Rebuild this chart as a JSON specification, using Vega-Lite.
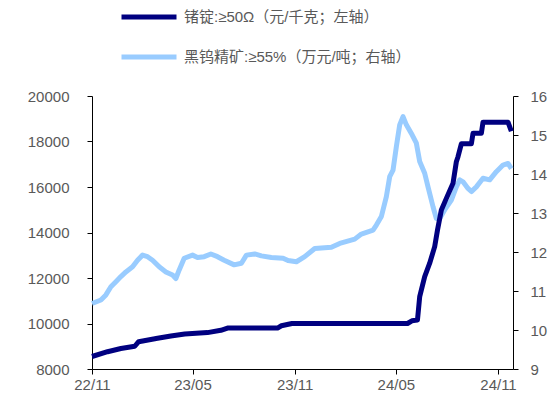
{
  "$schema": "https://vega.github.io/schema/vega-lite/v6.json",
  "width": 421,
  "height": 273,
  "autosize": {"type": "none"},
  "padding": {"left": 92, "top": 96, "right": 40, "bottom": 28},
  "background": "white",
  "config": {
    "view": {"stroke": null},
    "font": "Liberation Sans",
    "axis": {
      "labelFont": "Liberation Sans",
      "labelFontSize": 15,
      "labelColor": "#595959",
      "domainColor": "#000000",
      "tickColor": "#000000",
      "domainWidth": 1,
      "tickWidth": 1,
      "tickSize": 5,
      "grid": false,
      "title": null
    },
    "legend": {
      "orient": "none",
      "legendX": 27,
      "legendY": -109,
      "direction": "vertical",
      "symbolType": "stroke",
      "symbolSize": 3025,
      "symbolStrokeWidth": 5,
      "labelFont": "Liberation Sans, Noto Sans CJK SC",
      "labelFontSize": 15,
      "labelColor": "#595959",
      "labelOffset": 5,
      "rowPadding": 0,
      "labelLimit": 400
    }
  },
  "datasets": {
    "ge": [
      {"date": "2022-11-01", "series": "锗锭:≥50Ω（元/千克；左轴）", "value": 8550},
      {"date": "2022-11-29", "series": "锗锭:≥50Ω（元/千克；左轴）", "value": 8760},
      {"date": "2022-12-23", "series": "锗锭:≥50Ω（元/千克；左轴）", "value": 8900},
      {"date": "2023-01-17", "series": "锗锭:≥50Ω（元/千克；左轴）", "value": 9000},
      {"date": "2023-01-24", "series": "锗锭:≥50Ω（元/千克；左轴）", "value": 9200},
      {"date": "2023-02-27", "series": "锗锭:≥50Ω（元/千克；左轴）", "value": 9350},
      {"date": "2023-03-23", "series": "锗锭:≥50Ω（元/千克；左轴）", "value": 9450},
      {"date": "2023-04-17", "series": "锗锭:≥50Ω（元/千克；左轴）", "value": 9540},
      {"date": "2023-05-28", "series": "锗锭:≥50Ω（元/千克；左轴）", "value": 9600},
      {"date": "2023-06-21", "series": "锗锭:≥50Ω（元/千克；左轴）", "value": 9700},
      {"date": "2023-07-03", "series": "锗锭:≥50Ω（元/千克；左轴）", "value": 9800},
      {"date": "2023-10-01", "series": "锗锭:≥50Ω（元/千克；左轴）", "value": 9800},
      {"date": "2023-10-08", "series": "锗锭:≥50Ω（元/千克；左轴）", "value": 9900},
      {"date": "2023-10-27", "series": "锗锭:≥50Ω（元/千克；左轴）", "value": 10000},
      {"date": "2024-05-22", "series": "锗锭:≥50Ω（元/千克；左轴）", "value": 10000},
      {"date": "2024-05-30", "series": "锗锭:≥50Ω（元/千克；左轴）", "value": 10120},
      {"date": "2024-06-09", "series": "锗锭:≥50Ω（元/千克；左轴）", "value": 10150},
      {"date": "2024-06-13", "series": "锗锭:≥50Ω（元/千克；左轴）", "value": 11180},
      {"date": "2024-06-22", "series": "锗锭:≥50Ω（元/千克；左轴）", "value": 12060},
      {"date": "2024-07-01", "series": "锗锭:≥50Ω（元/千克；左轴）", "value": 12650},
      {"date": "2024-07-10", "series": "锗锭:≥50Ω（元/千克；左轴）", "value": 13380},
      {"date": "2024-07-15", "series": "锗锭:≥50Ω（元/千克；左轴）", "value": 14100},
      {"date": "2024-07-22", "series": "锗锭:≥50Ω（元/千克；左轴）", "value": 14990},
      {"date": "2024-07-31", "series": "锗锭:≥50Ω（元/千克；左轴）", "value": 15500},
      {"date": "2024-08-12", "series": "锗锭:≥50Ω（元/千克；左轴）", "value": 16160},
      {"date": "2024-08-18", "series": "锗锭:≥50Ω（元/千克；左轴）", "value": 17110},
      {"date": "2024-08-21", "series": "锗锭:≥50Ω（元/千克；左轴）", "value": 17330},
      {"date": "2024-08-27", "series": "锗锭:≥50Ω（元/千克；左轴）", "value": 17900},
      {"date": "2024-09-14", "series": "锗锭:≥50Ω（元/千克；左轴）", "value": 17900},
      {"date": "2024-09-17", "series": "锗锭:≥50Ω（元/千克；左轴）", "value": 18360},
      {"date": "2024-10-02", "series": "锗锭:≥50Ω（元/千克；左轴）", "value": 18360},
      {"date": "2024-10-05", "series": "锗锭:≥50Ω（元/千克；左轴）", "value": 18850},
      {"date": "2024-11-19", "series": "锗锭:≥50Ω（元/千克；左轴）", "value": 18850},
      {"date": "2024-11-25", "series": "锗锭:≥50Ω（元/千克；左轴）", "value": 18450}
    ],
    "w": [
      {"date": "2022-11-01", "series": "黑钨精矿:≥55%（万元/吨；右轴）", "value": 10.68},
      {"date": "2022-11-17", "series": "黑钨精矿:≥55%（万元/吨；右轴）", "value": 10.77},
      {"date": "2022-11-26", "series": "黑钨精矿:≥55%（万元/吨；右轴）", "value": 10.90},
      {"date": "2022-12-05", "series": "黑钨精矿:≥55%（万元/吨；右轴）", "value": 11.11},
      {"date": "2022-12-14", "series": "黑钨精矿:≥55%（万元/吨；右轴）", "value": 11.24},
      {"date": "2022-12-23", "series": "黑钨精矿:≥55%（万元/吨；右轴）", "value": 11.37},
      {"date": "2023-01-01", "series": "黑钨精矿:≥55%（万元/吨；右轴）", "value": 11.49},
      {"date": "2023-01-13", "series": "黑钨精矿:≥55%（万元/吨；右轴）", "value": 11.62},
      {"date": "2023-01-22", "series": "黑钨精矿:≥55%（万元/吨；右轴）", "value": 11.79},
      {"date": "2023-01-31", "series": "黑钨精矿:≥55%（万元/吨；右轴）", "value": 11.92},
      {"date": "2023-02-09", "series": "黑钨精矿:≥55%（万元/吨；右轴）", "value": 11.88},
      {"date": "2023-02-18", "series": "黑钨精矿:≥55%（万元/吨；右轴）", "value": 11.79},
      {"date": "2023-03-02", "series": "黑钨精矿:≥55%（万元/吨；右轴）", "value": 11.62},
      {"date": "2023-03-14", "series": "黑钨精矿:≥55%（万元/吨；右轴）", "value": 11.49},
      {"date": "2023-03-26", "series": "黑钨精矿:≥55%（万元/吨；右轴）", "value": 11.41},
      {"date": "2023-04-01", "series": "黑钨精矿:≥55%（万元/吨；右轴）", "value": 11.32},
      {"date": "2023-04-07", "series": "黑钨精矿:≥55%（万元/吨；右轴）", "value": 11.54},
      {"date": "2023-04-16", "series": "黑钨精矿:≥55%（万元/吨；右轴）", "value": 11.84},
      {"date": "2023-05-01", "series": "黑钨精矿:≥55%（万元/吨；右轴）", "value": 11.92},
      {"date": "2023-05-10", "series": "黑钨精矿:≥55%（万元/吨；右轴）", "value": 11.86},
      {"date": "2023-05-22", "series": "黑钨精矿:≥55%（万元/吨；右轴）", "value": 11.88},
      {"date": "2023-06-03", "series": "黑钨精矿:≥55%（万元/吨；右轴）", "value": 11.95},
      {"date": "2023-06-15", "series": "黑钨精矿:≥55%（万元/吨；右轴）", "value": 11.88},
      {"date": "2023-06-27", "series": "黑钨精矿:≥55%（万元/吨；右轴）", "value": 11.79},
      {"date": "2023-07-15", "series": "黑钨精矿:≥55%（万元/吨；右轴）", "value": 11.67},
      {"date": "2023-07-28", "series": "黑钨精矿:≥55%（万元/吨；右轴）", "value": 11.71},
      {"date": "2023-08-06", "series": "黑钨精矿:≥55%（万元/吨；右轴）", "value": 11.92},
      {"date": "2023-08-21", "series": "黑钨精矿:≥55%（万元/吨；右轴）", "value": 11.95},
      {"date": "2023-09-02", "series": "黑钨精矿:≥55%（万元/吨；右轴）", "value": 11.90},
      {"date": "2023-09-20", "series": "黑钨精矿:≥55%（万元/吨；右轴）", "value": 11.86},
      {"date": "2023-10-11", "series": "黑钨精矿:≥55%（万元/吨；右轴）", "value": 11.84},
      {"date": "2023-10-20", "series": "黑钨精矿:≥55%（万元/吨；右轴）", "value": 11.78},
      {"date": "2023-11-04", "series": "黑钨精矿:≥55%（万元/吨；右轴）", "value": 11.75},
      {"date": "2023-11-19", "series": "黑钨精矿:≥55%（万元/吨；右轴）", "value": 11.88},
      {"date": "2023-12-07", "series": "黑钨精矿:≥55%（万元/吨；右轴）", "value": 12.09},
      {"date": "2024-01-06", "series": "黑钨精矿:≥55%（万元/吨；右轴）", "value": 12.12},
      {"date": "2024-01-21", "series": "黑钨精矿:≥55%（万元/吨；右轴）", "value": 12.22},
      {"date": "2024-02-17", "series": "黑钨精矿:≥55%（万元/吨；右轴）", "value": 12.33},
      {"date": "2024-02-29", "series": "黑钨精矿:≥55%（万元/吨；右轴）", "value": 12.46},
      {"date": "2024-03-21", "series": "黑钨精矿:≥55%（万元/吨；右轴）", "value": 12.56},
      {"date": "2024-03-27", "series": "黑钨精矿:≥55%（万元/吨；右轴）", "value": 12.69},
      {"date": "2024-04-05", "series": "黑钨精矿:≥55%（万元/吨；右轴）", "value": 12.91},
      {"date": "2024-04-14", "series": "黑钨精矿:≥55%（万元/吨；右轴）", "value": 13.42},
      {"date": "2024-04-20", "series": "黑钨精矿:≥55%（万元/吨；右轴）", "value": 13.93},
      {"date": "2024-04-26", "series": "黑钨精矿:≥55%（万元/吨；右轴）", "value": 14.10},
      {"date": "2024-05-02", "series": "黑钨精矿:≥55%（万元/吨；右轴）", "value": 14.70},
      {"date": "2024-05-08", "series": "黑钨精矿:≥55%（万元/吨；右轴）", "value": 15.26},
      {"date": "2024-05-14", "series": "黑钨精矿:≥55%（万元/吨；右轴）", "value": 15.47},
      {"date": "2024-05-20", "series": "黑钨精矿:≥55%（万元/吨；右轴）", "value": 15.26},
      {"date": "2024-05-29", "series": "黑钨精矿:≥55%（万元/吨；右轴）", "value": 15.04},
      {"date": "2024-06-07", "series": "黑钨精矿:≥55%（万元/吨；右轴）", "value": 14.79},
      {"date": "2024-06-13", "series": "黑钨精矿:≥55%（万元/吨；右轴）", "value": 14.32},
      {"date": "2024-06-22", "series": "黑钨精矿:≥55%（万元/吨；右轴）", "value": 14.02},
      {"date": "2024-06-28", "series": "黑钨精矿:≥55%（万元/吨；右轴）", "value": 13.67},
      {"date": "2024-07-07", "series": "黑钨精矿:≥55%（万元/吨；右轴）", "value": 13.16},
      {"date": "2024-07-13", "series": "黑钨精矿:≥55%（万元/吨；右轴）", "value": 12.86},
      {"date": "2024-07-19", "series": "黑钨精矿:≥55%（万元/吨；右轴）", "value": 12.86},
      {"date": "2024-07-28", "series": "黑钨精矿:≥55%（万元/吨；右轴）", "value": 13.08},
      {"date": "2024-08-09", "series": "黑钨精矿:≥55%（万元/吨；右轴）", "value": 13.33},
      {"date": "2024-08-18", "series": "黑钨精矿:≥55%（万元/吨；右轴）", "value": 13.67},
      {"date": "2024-08-24", "series": "黑钨精矿:≥55%（万元/吨；右轴）", "value": 13.85},
      {"date": "2024-08-30", "series": "黑钨精矿:≥55%（万元/吨；右轴）", "value": 13.80},
      {"date": "2024-09-08", "series": "黑钨精矿:≥55%（万元/吨；右轴）", "value": 13.63},
      {"date": "2024-09-14", "series": "黑钨精矿:≥55%（万元/吨；右轴）", "value": 13.55},
      {"date": "2024-09-23", "series": "黑钨精矿:≥55%（万元/吨；右轴）", "value": 13.67},
      {"date": "2024-10-05", "series": "黑钨精矿:≥55%（万元/吨；右轴）", "value": 13.89},
      {"date": "2024-10-17", "series": "黑钨精矿:≥55%（万元/吨；右轴）", "value": 13.85},
      {"date": "2024-10-29", "series": "黑钨精矿:≥55%（万元/吨；右轴）", "value": 14.06},
      {"date": "2024-11-10", "series": "黑钨精矿:≥55%（万元/吨；右轴）", "value": 14.23},
      {"date": "2024-11-19", "series": "黑钨精矿:≥55%（万元/吨；右轴）", "value": 14.27},
      {"date": "2024-11-25", "series": "黑钨精矿:≥55%（万元/吨；右轴）", "value": 14.14}
    ]
  },
  "encoding": {
    "x": {
      "field": "date",
      "type": "temporal",
      "scale": {
        "type": "utc",
        "domain": [
          {"year": 2022, "month": 11, "date": 1, "utc": true},
          {"year": 2024, "month": 11, "date": 28, "utc": true}
        ]
      },
      "axis": {
        "values": [
          {"year": 2022, "month": 11, "date": 1, "utc": true},
          {"year": 2023, "month": 5, "date": 1, "utc": true},
          {"year": 2023, "month": 11, "date": 1, "utc": true},
          {"year": 2024, "month": 5, "date": 1, "utc": true},
          {"year": 2024, "month": 11, "date": 1, "utc": true}
        ],
        "labelExpr": "utcFormat(datum.value, '%y/%m')",
        "labelPadding": 3,
        "labelFlush": false,
        "labelOverlap": false
      }
    },
    "color": {
      "field": "series",
      "type": "nominal",
      "scale": {
        "domain": ["锗锭:≥50Ω（元/千克；左轴）", "黑钨精矿:≥55%（万元/吨；右轴）"],
        "range": ["#000080", "#99CCFF"]
      },
      "legend": {"title": null}
    }
  },
  "layer": [
    {
      "data": {"name": "w"},
      "mark": {"type": "line", "strokeWidth": 5, "strokeJoin": "round"},
      "encoding": {
        "y": {
          "field": "value",
          "type": "quantitative",
          "scale": {"domain": [9, 16], "nice": false, "zero": false},
          "axis": {"orient": "right", "values": [9, 10, 11, 12, 13, 14, 15, 16], "labelPadding": 12}
        }
      }
    },
    {
      "data": {"name": "ge"},
      "mark": {"type": "line", "strokeWidth": 5, "strokeJoin": "round"},
      "encoding": {
        "y": {
          "field": "value",
          "type": "quantitative",
          "scale": {"domain": [8000, 20000], "nice": false, "zero": false},
          "axis": {"orient": "left", "values": [8000, 10000, 12000, 14000, 16000, 18000, 20000], "format": "d", "labelPadding": 18}
        }
      }
    }
  ],
  "resolve": {"scale": {"y": "independent"}}
}
